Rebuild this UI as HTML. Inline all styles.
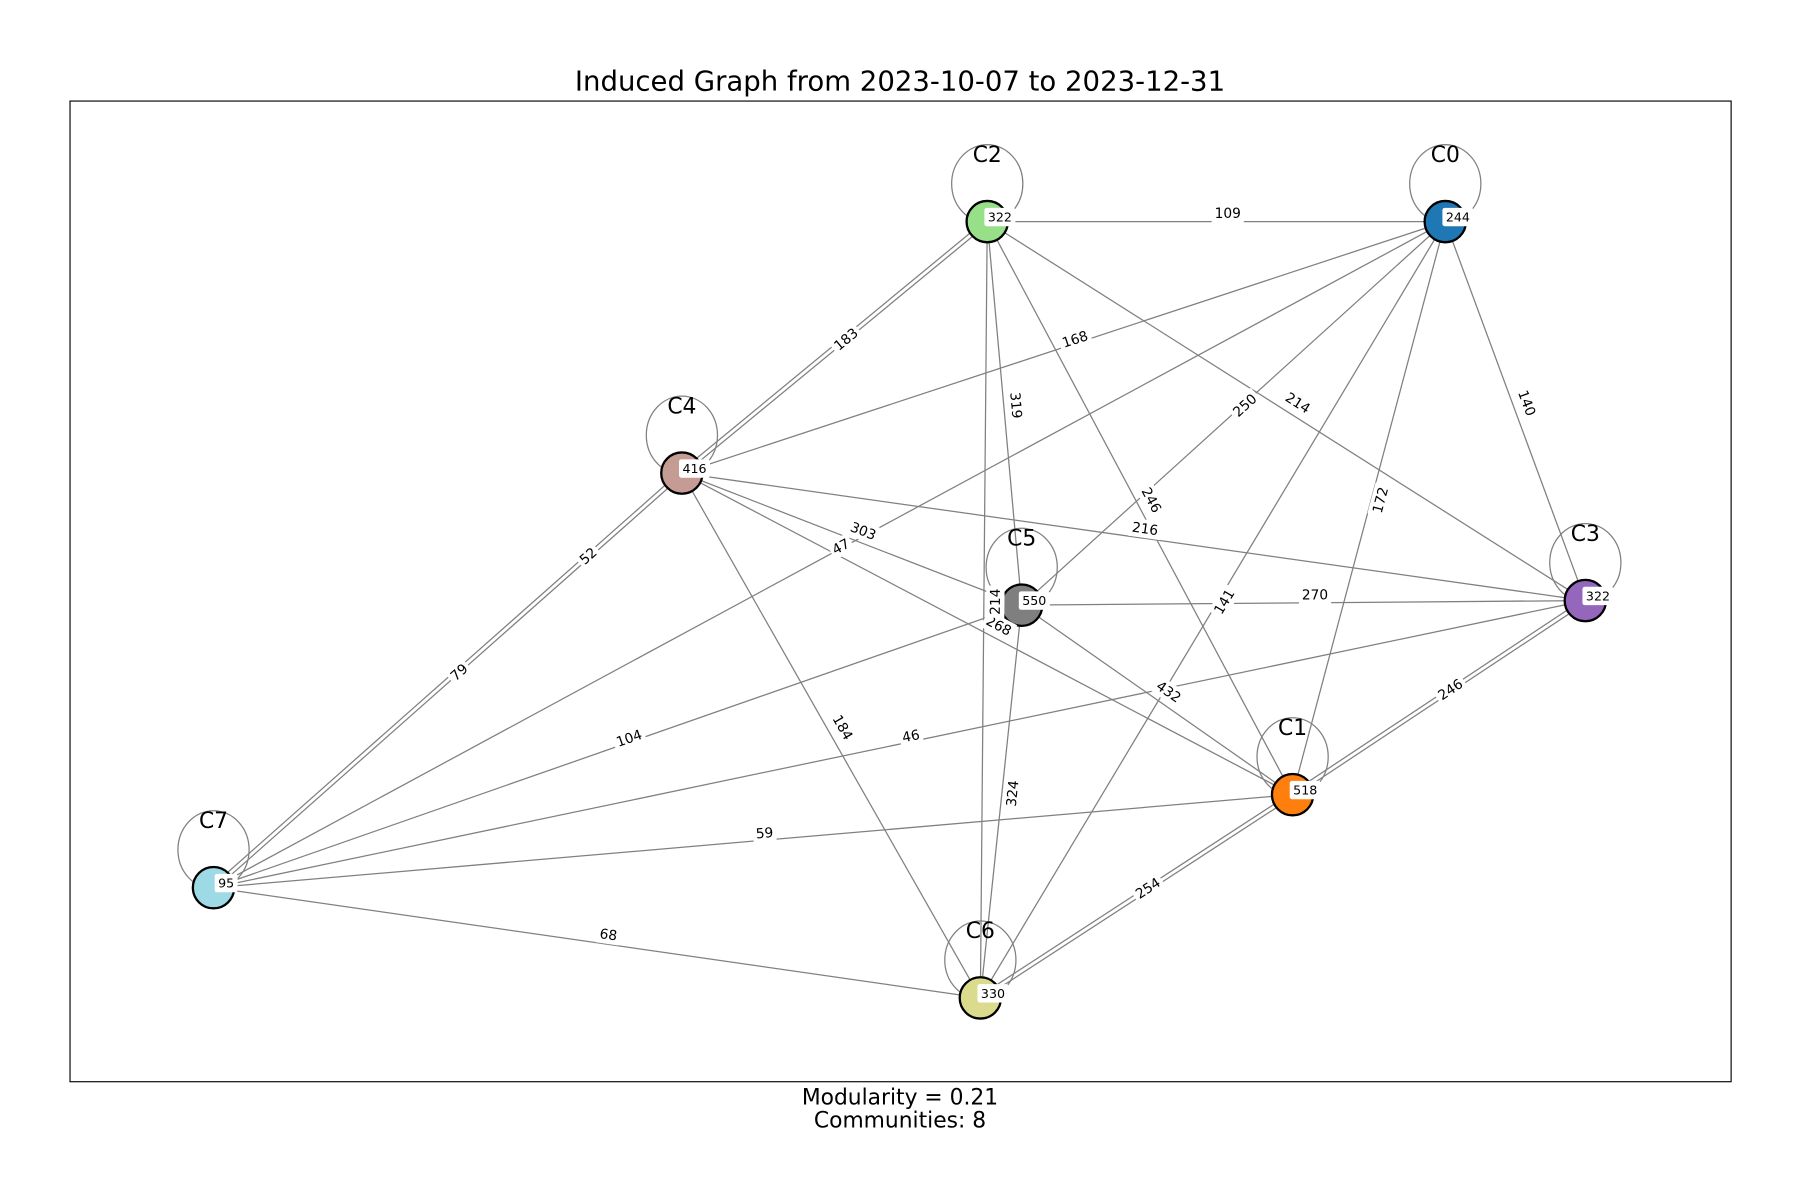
<!DOCTYPE html>
<html><head><meta charset="utf-8"><style>
html,body{margin:0;padding:0;background:#fff}
svg{display:block}
text{font-family:"DejaVu Sans","Liberation Sans",sans-serif}
</style></head><body>
<svg id="chart" width="1800" height="1200" viewBox="0 0 1568 1045" preserveAspectRatio="none" xmlns="http://www.w3.org/2000/svg">
<rect x="0" y="0" width="1568" height="1045" fill="#fff"/>
<text x="784" y="79" font-size="24" text-anchor="middle">Induced Graph from 2023-10-07 to 2023-12-31</text>
<rect x="61" y="88" width="1447" height="854" fill="none" stroke="#000" stroke-width="1"/>
<g id="edges"></g><g id="loops"></g><g id="nodes"></g><g id="elabels"></g><g id="nlabels"></g>
<text x="784" y="962" font-size="19" text-anchor="middle">Modularity = 0.21</text>
<text x="784" y="982" font-size="19" text-anchor="middle">Communities: 8</text>
</svg>
<script>
const nodeNames = ["C0","C1","C2","C3","C4","C5","C6","C7"];
const nodeX = [1259,1126,860,1381,594,890,854,186];
const nodeY = [193,692,193,523,412,527,869,773];
const nodeColors = ["#1f77b4","#ff7f0e","#98df8a","#9467bd","#c49c94","#7f7f7f","#dbdb8d","#9edae5"];
const nodeValues = [244,518,322,322,416,550,330,95];
const edgeFrom = [2,4,4,2,2,2,0,0,0,0,4,4,0,4,4,4,5,5,5,5,2,3,3,1,1,7,4];
const edgeTo   = [0,2,0,5,1,3,5,3,1,6,3,5,7,1,6,7,3,1,6,7,6,7,1,7,6,6,7];
const edgeWeights = [109,183,168,319,246,214,250,140,172,141,216,303,47,268,184,79,270,432,324,104,214,46,246,59,254,68,52];
const edgeLabelPos = [0.5,0.5,0.5,0.5,0.5,0.5,0.5,0.5,0.5,0.5,0.5,0.5,0.5,0.5,0.5,0.5,0.5,0.5,0.5,0.5,0.5,0.5,0.5,0.5,0.5,0.5,0.2];
const doubleEdges = [1,15,22,24];
const ns="http://www.w3.org/2000/svg";
function mk(t,a,p){const e=document.createElementNS(ns,t);for(const k in a)e.setAttribute(k,a[k]);p.appendChild(e);return e;}
const G=id=>document.getElementById(id);
edgeFrom.forEach((f,i)=>{
  const t=edgeTo[i];
  const x1=nodeX[f],y1=nodeY[f],x2=nodeX[t],y2=nodeY[t];
  const offs=doubleEdges.includes(i)?[-1.8,1.8]:(i===26?[]:[0]);
  const L=Math.hypot(x2-x1,y2-y1),nx=-(y2-y1)/L,ny=(x2-x1)/L;
  offs.forEach(o=>{
    const l=mk('line',{x1:x1+nx*o,y1:y1+ny*o,x2:x2+nx*o,y2:y2+ny*o,stroke:'#808080','stroke-width':1.1},G('edges'));
    
    
  });
  const p=edgeLabelPos[i];
  const mx=x1+(x2-x1)*p,my=y1+(y2-y1)*p;
  let ang=Math.atan2(y2-y1,x2-x1)*180/Math.PI;
  if(ang>90)ang-=180; if(ang<-90)ang+=180;
  const dx=i===26?0:10, dy=i===26?0:-7;
  const g=mk('g',{transform:`translate(${mx+dx},${my+dy}) rotate(${ang})`},G('elabels'));
  
  
  const s=String(edgeWeights[i]);const w=s.length*8+4;
  mk('rect',{x:-w/2,y:-8,width:w,height:16,fill:'#fff'},g);
  mk('text',{x:0,y:4,'font-size':12,'text-anchor':'middle'},g).textContent=s;
});
nodeNames.forEach((n,i)=>{
  const x=nodeX[i],y=nodeY[i];
  const lp=mk('ellipse',{cx:x,cy:y-33,rx:31,ry:34,fill:'none',stroke:'#808080','stroke-width':1.1},G('loops'));
  
  
  const c=mk('circle',{cx:x,cy:y,r:18,fill:nodeColors[i],stroke:'#000','stroke-width':2},G('nodes'));
  
  
  const t=mk('text',{x:x,y:y-52,'font-size':19,'text-anchor':'middle'},G('nlabels'));
  t.textContent=n;
  
  
  const s=String(nodeValues[i]);const w=s.length*7+6;
  const bx=x+11;
  const r=mk('rect',{x:bx-w/2,y:y-12,width:w,height:16,rx:2,fill:'#fff'},G('nlabels'));
  
  
  const vt=mk('text',{x:bx,y:y,'font-size':11,'text-anchor':'middle'},G('nlabels'));
  vt.textContent=s;
  
  
});
</script>
</body></html>
